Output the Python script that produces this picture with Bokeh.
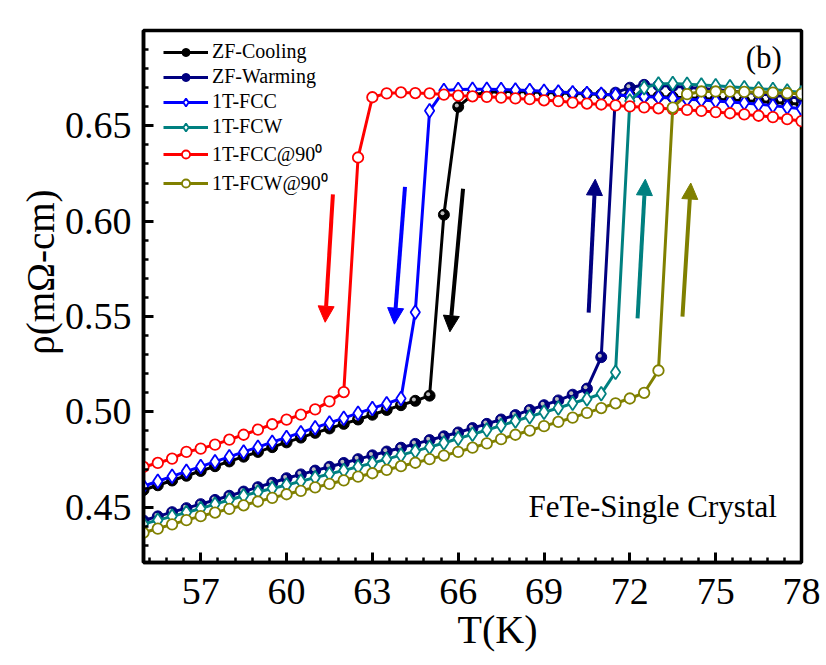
from bokeh.plotting import figure
from bokeh.models import (Range1d, SingleIntervalTicker, PrintfTickFormatter, Legend, LegendItem,
                          Arrow, NormalHead, Label, ColumnDataSource)
from bokeh.transform import dodge
from bokeh.embed import file_html
from bokeh.resources import INLINE

# ---------------- data ----------------
T = [55.0, 55.5, 56.0, 56.5, 57.0, 57.5, 58.0, 58.5, 59.0, 59.5, 60.0, 60.5,
     61.0, 61.5, 62.0, 62.5, 63.0, 63.5, 64.0, 64.5, 65.0, 65.5, 66.0, 66.5,
     67.0, 67.5, 68.0, 68.5, 69.0, 69.5, 70.0, 70.5, 71.0, 71.5, 72.0, 72.5,
     73.0, 73.5, 74.0, 74.5, 75.0, 75.5, 76.0, 76.5, 77.0, 77.5, 78.0]

zf_cooling = [0.4590, 0.4615, 0.4640, 0.4665, 0.4690, 0.4715, 0.4740, 0.4765, 0.4790, 0.4815,
              0.4840, 0.4865, 0.4890, 0.4913, 0.4937, 0.4960, 0.4985, 0.5010, 0.5035, 0.5058,
              0.5085, 0.6034, 0.6600, 0.6662, 0.6675, 0.6680, 0.6680, 0.6678, 0.6675, 0.6672,
              0.6670, 0.6668, 0.6665, 0.6662, 0.6660, 0.6657, 0.6654, 0.6650, 0.6647, 0.6643,
              0.6640, 0.6636, 0.6632, 0.6628, 0.6623, 0.6618, 0.6613]

zf_warming = [0.4430, 0.4452, 0.4474, 0.4495, 0.4516, 0.4538, 0.4560, 0.4582, 0.4605, 0.4628,
              0.4652, 0.4672, 0.4692, 0.4712, 0.4732, 0.4752, 0.4772, 0.4792, 0.4812, 0.4832,
              0.4852, 0.4872, 0.4892, 0.4915, 0.4937, 0.4960, 0.4983, 0.5010, 0.5035, 0.5060,
              0.5090, 0.5122, 0.5287, 0.6674, 0.6700, 0.6715, 0.6712, 0.6708, 0.6702, 0.6696,
              0.6690, 0.6683, 0.6676, 0.6668, 0.6660, 0.6652, 0.6644]

fcc_1t = [0.4610, 0.4636, 0.4662, 0.4688, 0.4713, 0.4739, 0.4764, 0.4790, 0.4815, 0.4841,
          0.4866, 0.4891, 0.4917, 0.4942, 0.4967, 0.4993, 0.5018, 0.5043, 0.5070, 0.5523,
          0.6579, 0.6685, 0.6690, 0.6692, 0.6692, 0.6690, 0.6688, 0.6685, 0.6682, 0.6678,
          0.6674, 0.6670, 0.6666, 0.6662, 0.6658, 0.6654, 0.6650, 0.6645, 0.6640, 0.6635,
          0.6630, 0.6625, 0.6620, 0.6613, 0.6606, 0.6598, 0.6590]

fcw_1t = [0.4412, 0.4432, 0.4452, 0.4472, 0.4493, 0.4516, 0.4538, 0.4560, 0.4580, 0.4598,
          0.4616, 0.4636, 0.4655, 0.4674, 0.4693, 0.4712, 0.4731, 0.4752, 0.4773, 0.4794,
          0.4815, 0.4837, 0.4860, 0.4882, 0.4905, 0.4928, 0.4952, 0.4975, 0.4998, 0.5020,
          0.5045, 0.5068, 0.5095, 0.5208, 0.6630, 0.6700, 0.6720, 0.6722, 0.6718, 0.6714,
          0.6710, 0.6705, 0.6700, 0.6695, 0.6690, 0.6683, 0.6675]

fcc_1t_90 = [0.4711, 0.4732, 0.4755, 0.4790, 0.4807, 0.4828, 0.4854, 0.4880, 0.4907, 0.4935,
             0.4959, 0.4985, 0.5013, 0.5055, 0.5104, 0.6334, 0.6650, 0.6670, 0.6675, 0.6672,
             0.6670, 0.6664, 0.6658, 0.6655, 0.6652, 0.6648, 0.6644, 0.6640, 0.6634, 0.6630,
             0.6622, 0.6617, 0.6612, 0.6607, 0.6602, 0.6597, 0.6592, 0.6588, 0.6584, 0.6578,
             0.6572, 0.6566, 0.6560, 0.6553, 0.6546, 0.6535, 0.6525]

fcw_1t_90 = [0.4366, 0.4388, 0.4410, 0.4432, 0.4453, 0.4472, 0.4491, 0.4510, 0.4530, 0.4549,
             0.4568, 0.4586, 0.4604, 0.4622, 0.4641, 0.4660, 0.4678, 0.4696, 0.4715, 0.4733,
             0.4752, 0.4771, 0.4790, 0.4812, 0.4835, 0.4857, 0.4880, 0.4902, 0.4925, 0.4947,
             0.4970, 0.4995, 0.5020, 0.5045, 0.5070, 0.5100, 0.5217, 0.6596, 0.6666, 0.6680,
             0.6680, 0.6679, 0.6678, 0.6676, 0.6674, 0.6671, 0.6668]

series_names = ["ZF-Cooling", "ZF-Warming", "1T-FCC", "1T-FCW", "1T-FCC@90\u2070", "1T-FCW@90\u2070"]
series_colors = ["#000000", "#000080", "#0000FF", "#008080", "#FF0000", "#808000"]
series_markers = ["ball", "ball", "diamond", "diamond", "circle", "circle"]

arrow_x_start = [61.62, 64.14, 66.17, 70.56, 72.27, 73.84]
arrow_y_start = [0.614, 0.618, 0.617, 0.552, 0.549, 0.550]
arrow_x_end = [61.35, 63.77, 65.71, 70.79, 72.54, 74.13]
arrow_y_end = [0.547, 0.546, 0.542, 0.622, 0.622, 0.620]
arrow_colors = ["#FF0000", "#0000FF", "#000000", "#000080", "#008080", "#808000"]

x_ticks_interval = 3
y_ticks_interval = 0.05

FONT = "Liberation Serif"
NB = "\u00a0"

# ---------------- figure ----------------
p = figure(width=826, height=665, output_backend="svg", toolbar_location=None,
           x_range=Range1d(55, 78), y_range=Range1d(0.421, 0.70),
           min_border_left=143, min_border_right=25, min_border_top=30, min_border_bottom=103)
p.background_fill_color = "white"
p.border_fill_color = "white"
p.grid.visible = False
p.outline_line_color = "black"
p.outline_line_width = 3.5

p.xaxis.ticker = SingleIntervalTicker(interval=x_ticks_interval, num_minor_ticks=5)
p.yaxis.ticker = SingleIntervalTicker(interval=y_ticks_interval, num_minor_ticks=5)
p.yaxis.formatter = PrintfTickFormatter(format="%.2f")

p.axis.axis_line_width = 3.5
p.axis.axis_line_color = "black"
p.axis.major_tick_in = 10
p.axis.major_tick_out = 0
p.axis.minor_tick_in = 5
p.axis.minor_tick_out = 0
p.axis.major_tick_line_width = 3
p.axis.minor_tick_line_width = 2.5
p.axis.major_label_text_font = FONT
p.axis.major_label_text_font_size = "38px"
p.axis.major_label_text_color = "black"
p.axis.axis_label_text_font = FONT
p.axis.axis_label_text_font_style = "normal"
p.axis.axis_label_text_color = "black"

p.xaxis.axis_label = NB * 5 + "T(K)"
p.xaxis.axis_label_text_font_size = "40px"
p.xaxis.major_label_standoff = 16
p.xaxis.axis_label_standoff = 0

p.yaxis.axis_label = NB * 5 + "\u03c1(m\u03a9-cm)"
p.yaxis.axis_label_text_font_size = "39px"
p.yaxis.major_label_standoff = 12
p.yaxis.axis_label_standoff = 0

legend_items = []
series_values = [zf_cooling, zf_warming, fcc_1t, fcw_1t, fcc_1t_90, fcw_1t_90]
for name, vals, col, mk in zip(series_names, series_values, series_colors, series_markers):
    src = ColumnDataSource(dict(T=T, y=vals))
    ln = p.line("T", "y", source=src, line_color=col, line_width=3)
    rends = [ln]
    if mk == "ball":
        s = p.scatter("T", "y", source=src, marker="circle", size=11, fill_color=col,
                      line_color=col, line_width=1)
        p.scatter(dodge("T", -0.05), dodge("y", 0.0007), source=src, marker="circle", size=4,
                  fill_color="#bdbdbd", line_color=None)
        rends.append(s)
    elif mk == "diamond":
        s = p.scatter("T", "y", source=src, marker="diamond", size=14,
                      fill_color="white", line_color=col, line_width=1.8)
        rends.append(s)
    else:
        s = p.scatter("T", "y", source=src, marker="circle", size=10.5,
                      fill_color="white", line_color=col, line_width=1.8)
        rends.append(s)
    legend_items.append(LegendItem(label=name, renderers=rends))

for xs, ys, xe, ye, c in zip(arrow_x_start, arrow_y_start, arrow_x_end, arrow_y_end, arrow_colors):
    p.add_layout(Arrow(end=NormalHead(size=16, fill_color=c, line_color=c, line_width=1),
                       x_start=xs, y_start=ys, x_end=xe, y_end=ye,
                       line_color=c, line_width=4))

legend = Legend(items=legend_items, location=(20, 366), orientation="vertical",
                label_text_font=FONT, label_text_font_size="20px", label_text_color="black",
                glyph_width=45, glyph_height=20, label_height=20, spacing=2, padding=4,
                label_standoff=4, background_fill_alpha=0, border_line_color=None,
                margin=0)
p.add_layout(legend)

p.add_layout(Label(x=76.68, y=0.6856, text="(b)", text_font=FONT, text_font_size="31px",
                   text_align="center", text_baseline="middle", text_color="black"))
p.add_layout(Label(x=77.14, y=0.4505, text="FeTe-Single Crystal", text_font=FONT,
                   text_font_size="31px", text_align="right", text_baseline="alphabetic",
                   text_color="black"))

open("out.html", "w").write(file_html(p, INLINE))
